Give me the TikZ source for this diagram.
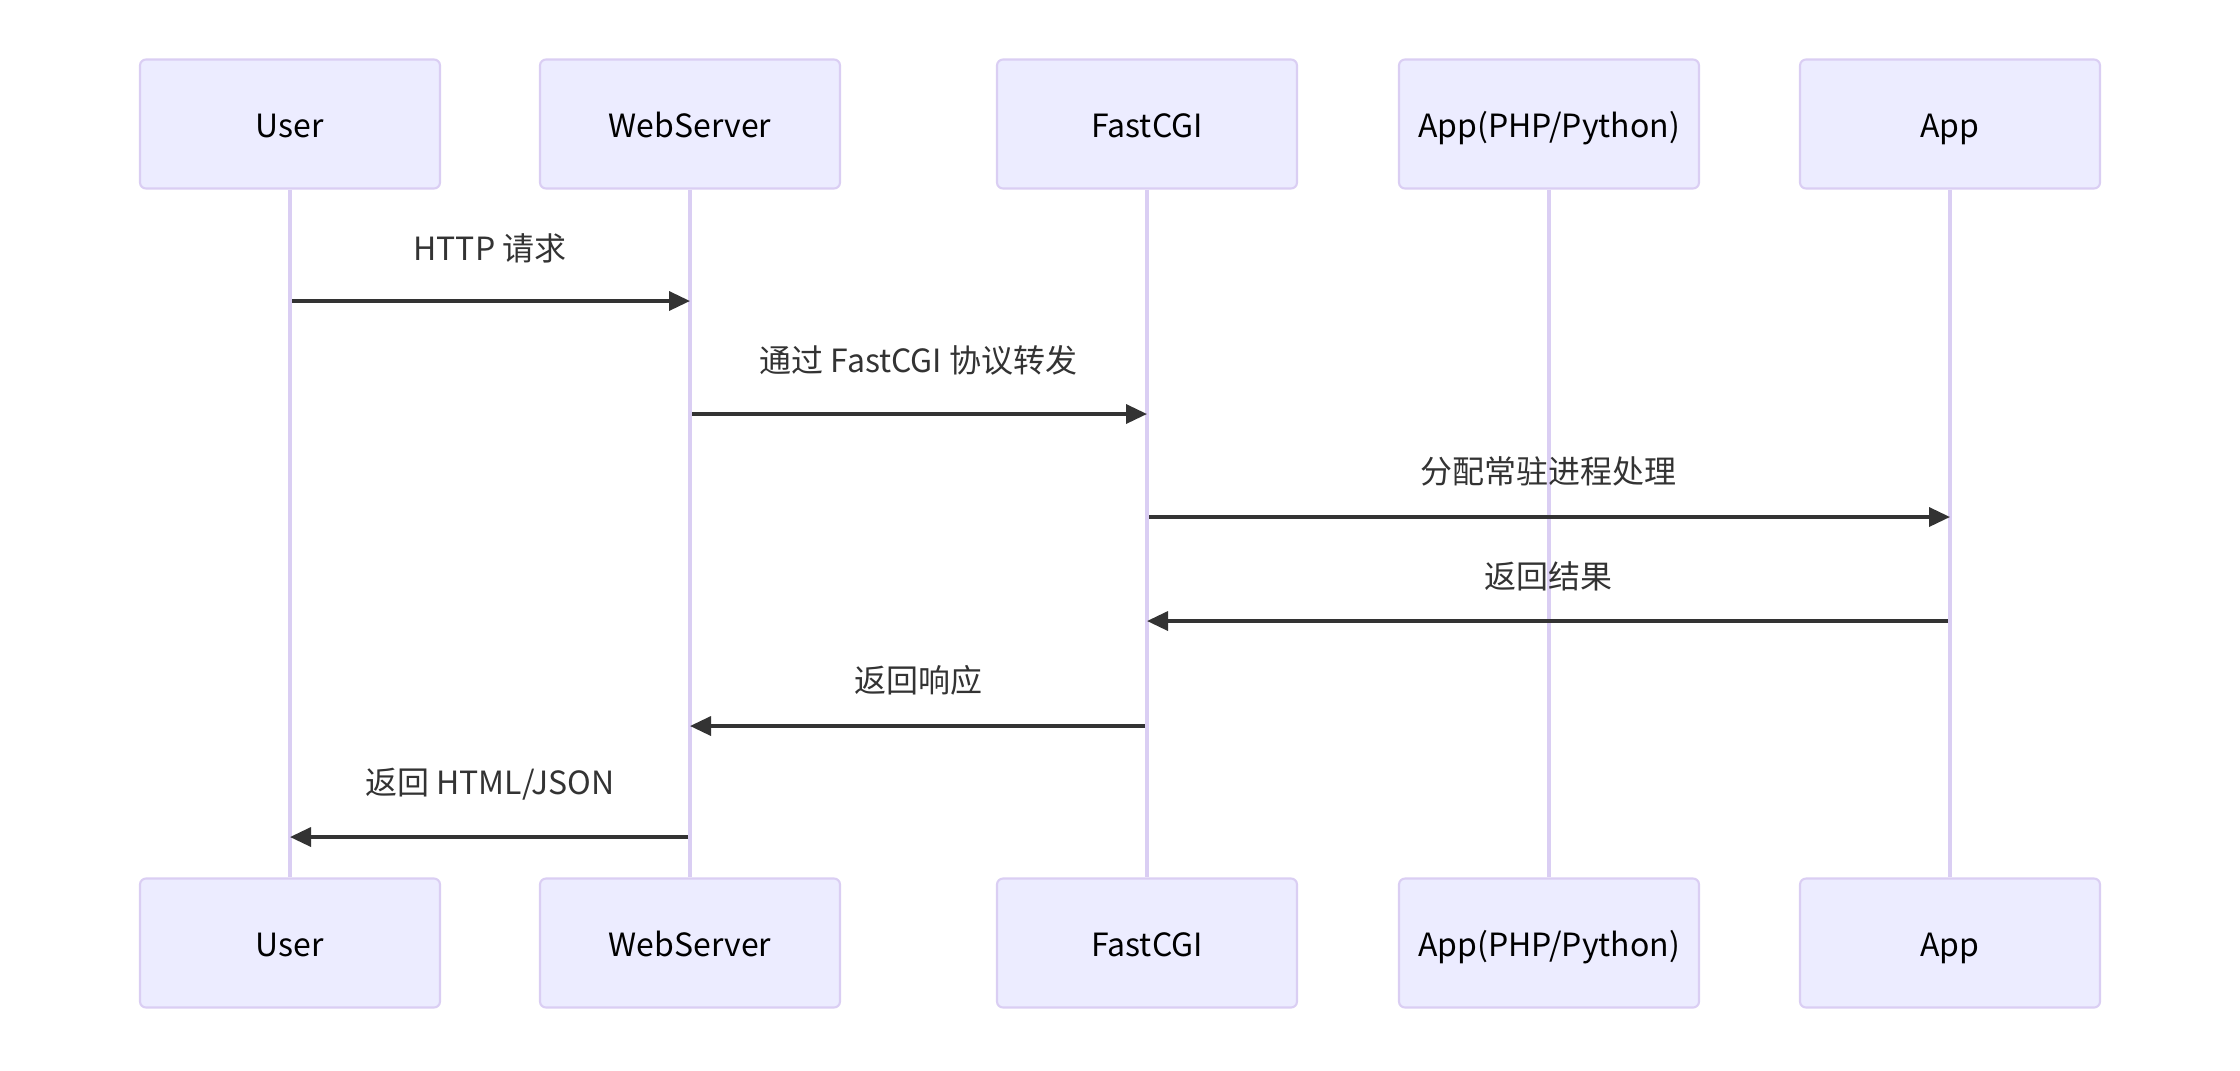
\documentclass[tikz,border=0pt]{standalone}
\usepackage{fontspec}
\usepackage{tikz}
\usetikzlibrary{arrows.meta}
\newfontfamily\cjk{Noto Sans CJK SC}
\definecolor{actorfill}{HTML}{ECECFF}
\definecolor{actorline}{HTML}{DACEF3}
\definecolor{signal}{HTML}{333333}
\tikzset{
  actor/.style={draw=actorline, line width=0.6pt, fill=actorfill, rounded corners=0.06cm,
    minimum width=3cm, minimum height=1.29cm, text=black, text height=0.31cm, text depth=0.04cm,
    font=\cjk\fontsize{9.1pt}{11pt}\selectfont},
  life/.style={draw=actorline, line width=0.9pt},
  msg/.style={draw=signal, line width=1pt, -{Triangle[length=0.21cm, width=0.19cm]}},
  msgtext/.style={text=signal, font=\cjk\fontsize{9.1pt}{11pt}\selectfont}
}
\begin{document}
\begin{tikzpicture}
\useasboundingbox (0,0) rectangle (22.4,-10.7);
% actors on top
\node[actor] (userT) at (2.90,-1.24) {User};
\node[actor] (webT) at (6.90,-1.24) {WebServer};
\node[actor] (fcgiT) at (11.47,-1.24) {FastCGI};
\node[actor] (appphpT) at (15.49,-1.24) {App(PHP/Python)};
\node[actor] (appT) at (19.50,-1.24) {App};
% actors at the bottom
\node[actor] (userB) at (2.90,-9.43) {User};
\node[actor] (webB) at (6.90,-9.43) {WebServer};
\node[actor] (fcgiB) at (11.47,-9.43) {FastCGI};
\node[actor] (appphpB) at (15.49,-9.43) {App(PHP/Python)};
\node[actor] (appB) at (19.50,-9.43) {App};
% life lines
\draw[life] (userT.south) -- (userB.north);
\draw[life] (webT.south) -- (webB.north);
\draw[life] (fcgiT.south) -- (fcgiB.north);
\draw[life] (appphpT.south) -- (appphpB.north);
\draw[life] (appT.south) -- (appB.north);
% points on the life lines
\coordinate (u1) at (2.92,-3.01);
\coordinate (w1) at (6.90,-3.01);
\coordinate (w2) at (6.92,-4.14);
\coordinate (f2) at (11.47,-4.14);
\coordinate (f3) at (11.49,-5.17);
\coordinate (a3) at (19.50,-5.17);
\coordinate (a4) at (19.48,-6.21);
\coordinate (f4) at (11.47,-6.21);
\coordinate (f5) at (11.45,-7.26);
\coordinate (w5) at (6.90,-7.26);
\coordinate (w6) at (6.88,-8.37);
\coordinate (u6) at (2.90,-8.37);
% messages
\draw[msg] (u1) -- (w1);
\node[msgtext] (m1) at (4.90,-2.48) {HTTP 请求};
\draw[msg] (w2) -- (f2);
\node[msgtext] (m2) at (9.185,-3.60) {通过 FastCGI 协议转发};
\draw[msg] (f3) -- (a3);
\node[msgtext] (m3) at (15.485,-4.71) {分配常驻进程处理};
\draw[msg] (a4) -- (f4);
\node[msgtext] (m4) at (15.485,-5.76) {返回结果};
\draw[msg] (f5) -- (w5);
\node[msgtext] (m5) at (9.185,-6.80) {返回响应};
\draw[msg] (w6) -- (u6);
\node[msgtext] (m6) at (4.90,-7.84) {返回 HTML/JSON};
\end{tikzpicture}
\end{document}
